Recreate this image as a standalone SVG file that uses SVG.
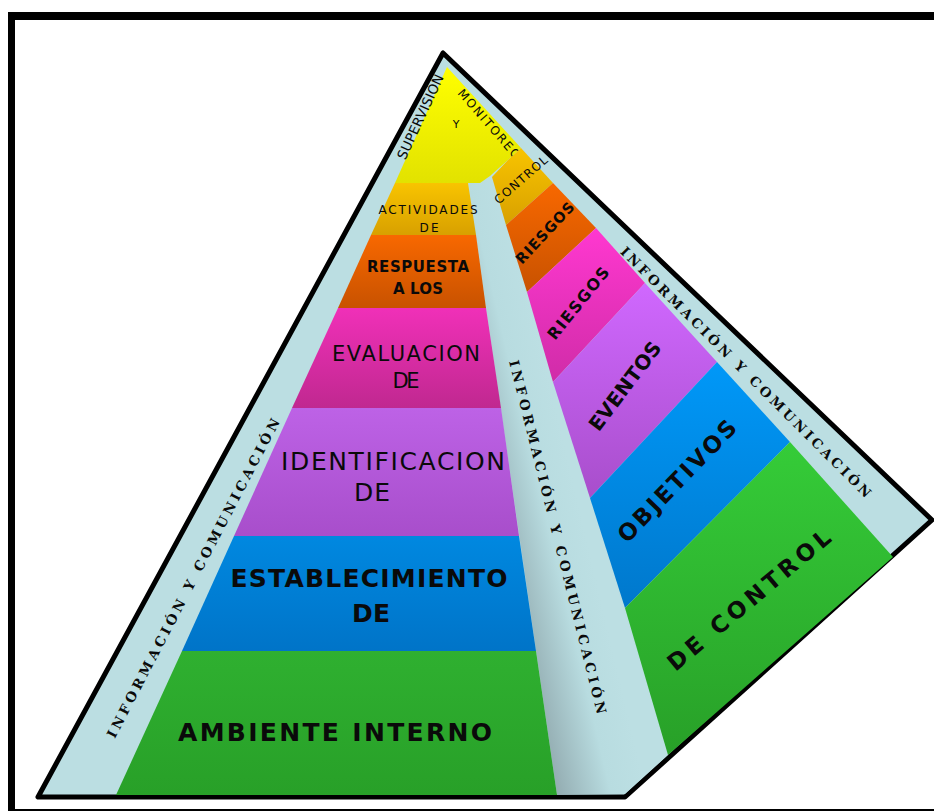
<svg xmlns="http://www.w3.org/2000/svg" width="934" height="811" viewBox="0 0 934 811">
<style>
text{font-family:"DejaVu Sans","Liberation Sans",sans-serif;fill:#0a0a0a;text-anchor:middle}
.b{font-weight:bold}
.strip{font-size:13.5px;font-family:"DejaVu Serif","DejaVu Sans",serif;font-weight:bold}
</style>
<defs>
<linearGradient id="gY" x1="0" y1="0" x2="0" y2="1"><stop offset="0" stop-color="#ffff00"/><stop offset="1" stop-color="#e2e200"/></linearGradient>
<linearGradient id="gA" x1="0" y1="0" x2="0" y2="1"><stop offset="0" stop-color="#f8c400"/><stop offset="1" stop-color="#d8a000"/></linearGradient>
<linearGradient id="gR" x1="0" y1="0" x2="0" y2="1"><stop offset="0" stop-color="#f86800"/><stop offset="1" stop-color="#c85200"/></linearGradient>
<linearGradient id="gP" x1="0" y1="0" x2="0" y2="1"><stop offset="0" stop-color="#f030b8"/><stop offset="1" stop-color="#c02890"/></linearGradient>
<linearGradient id="gV" x1="0" y1="0" x2="0" y2="1"><stop offset="0" stop-color="#bd62e6"/><stop offset="1" stop-color="#a84ecb"/></linearGradient>
<linearGradient id="gB" x1="0" y1="0" x2="0" y2="1"><stop offset="0" stop-color="#0088e0"/><stop offset="1" stop-color="#0074c8"/></linearGradient>
<linearGradient id="gG" x1="0" y1="0" x2="0" y2="1"><stop offset="0" stop-color="#2fb030"/><stop offset="1" stop-color="#28a028"/></linearGradient>
<linearGradient id="rG" x1="0" y1="0" x2="0" y2="1"><stop offset="0" stop-color="#35cc38"/><stop offset="1" stop-color="#28a028"/></linearGradient>
<linearGradient id="rB" x1="0" y1="0" x2="0" y2="1"><stop offset="0" stop-color="#0098f8"/><stop offset="1" stop-color="#0078cc"/></linearGradient>
<linearGradient id="rV" x1="0" y1="0" x2="0" y2="1"><stop offset="0" stop-color="#d068ff"/><stop offset="1" stop-color="#a84ecb"/></linearGradient>
<linearGradient id="rP" x1="0" y1="0" x2="0" y2="1"><stop offset="0" stop-color="#ff38d0"/><stop offset="1" stop-color="#d02ca8"/></linearGradient>
<linearGradient id="strip" gradientUnits="userSpaceOnUse" x1="540" y1="720" x2="625" y2="700"><stop offset="0" stop-color="#94adb2"/><stop offset="0.6" stop-color="#b8dce0"/><stop offset="1" stop-color="#bcdfe3"/></linearGradient>
</defs>
<rect width="934" height="811" fill="#fff"/>
<g id="frame" fill="#000">
<rect x="8" y="12" width="926" height="8"/>
<rect x="8" y="12" width="7" height="799"/>
<rect x="8" y="809" width="926" height="2"/>
</g>
<g id="pyramid-base">
<polygon points="443,53 38,797 625,797 932,520" fill="#bbdee2" stroke="#000" stroke-width="5" stroke-linejoin="round"/>
</g>
<g id="central-strip"><polygon points="468,183 492,177 668,755 625,794 557,795" fill="url(#strip)"/></g>
<g id="ambiente-interno"><polygon points="182,651 536,651 557,795 116,795" fill="url(#gG)"/><text class="b" x="335" y="741" font-size="25" textLength="314">AMBIENTE  INTERNO</text></g>
<g id="establecimiento"><polygon points="234,536 519,536 536,651 182,651" fill="url(#gB)"/><text class="b" x="369" y="587" font-size="25" textLength="277">ESTABLECIMIENTO</text><text class="b" x="371" y="622" font-size="25" textLength="38">DE</text></g>
<g id="identificacion"><polygon points="292,408 501,408 519,536 234,536" fill="url(#gV)"/><text x="393" y="470" font-size="25" textLength="224">IDENTIFICACION</text><text x="372" y="501" font-size="25" textLength="36">DE</text></g>
<g id="evaluacion"><polygon points="338,308 486,308 501,408 292,408" fill="url(#gP)"/><text x="406" y="361" font-size="21" textLength="148">EVALUACION</text><text x="406" y="388" font-size="21" textLength="27">DE</text></g>
<g id="respuesta"><polygon points="371,235 476,235 486,308 338,308" fill="url(#gR)"/><text class="b" x="418" y="272" font-size="15" textLength="102">RESPUESTA</text><text class="b" x="418" y="294" font-size="15" textLength="50">A LOS</text></g>
<g id="actividades"><polygon points="395,183 468,183 476,235 371,235" fill="url(#gA)"/><text x="428" y="214" font-size="12" textLength="99" fill="#222">ACTIVIDADES</text><text x="429" y="232" font-size="12" textLength="19">DE</text></g>
<g id="supervision"><polygon points="447,67 521,148 508,160 490,176 480,183 395,183" fill="url(#gY)"/>
<text class="strip" font-weight="normal" transform="translate(421,117) rotate(-65)" y="4" font-size="13" textLength="92" style="font-weight:normal;font-family:'DejaVu Sans',sans-serif">SUPERVISIÓN</text>
<text transform="translate(456,124)" y="4" font-size="11">Y</text>
<text transform="translate(489,124) rotate(49)" y="4" font-size="12" textLength="88">MONITOREO</text></g>
<g id="control"><polygon points="521,148 553,183 506,225 492,177 508,160" fill="url(#gA)"/><text transform="translate(521,180) rotate(-41)" y="4" font-size="12" textLength="66" fill="#222">CONTROL</text></g>
<g id="riesgos-1"><polygon points="553,183 596,228 527,292 506,225" fill="url(#gR)"/><text class="b" transform="translate(545,233) rotate(-47)" y="5" font-size="14.5" textLength="78">RIESGOS</text></g>
<g id="riesgos-2"><polygon points="596,228 645,283 553,382 527,292" fill="url(#rP)"/><text class="b" transform="translate(578,303) rotate(-51)" y="6" font-size="16" textLength="88">RIESGOS</text></g>
<g id="eventos"><polygon points="645,283 717,362 590,498 553,382" fill="url(#rV)"/><text class="b" transform="translate(625,386) rotate(-53)" y="7" font-size="20" textLength="106">EVENTOS</text></g>
<g id="objetivos"><polygon points="717,362 790,442 625,608 590,498" fill="url(#rB)"/><text class="b" transform="translate(677,481) rotate(-46)" y="8" font-size="23" textLength="160">OBJETIVOS</text></g>
<g id="de-control"><polygon points="790,442 893,557 668,755 625,608" fill="url(#rG)"/><text class="b" transform="translate(749,600) rotate(-40)" y="8" font-size="23" textLength="205">DE  CONTROL</text></g>
<g id="informacion-labels">
<text class="strip" transform="translate(193,578) rotate(-62.5)" y="5" textLength="358">INFORMACIÓN Y COMUNICACIÓN</text>
<text class="strip" transform="translate(558,537) rotate(76)" y="5" textLength="364">INFORMACIÓN Y COMUNICACIÓN</text>
<text class="strip" transform="translate(746,372) rotate(45)" y="5" textLength="348">INFORMACIÓN Y COMUNICACIÓN</text>
</g>
</svg>
